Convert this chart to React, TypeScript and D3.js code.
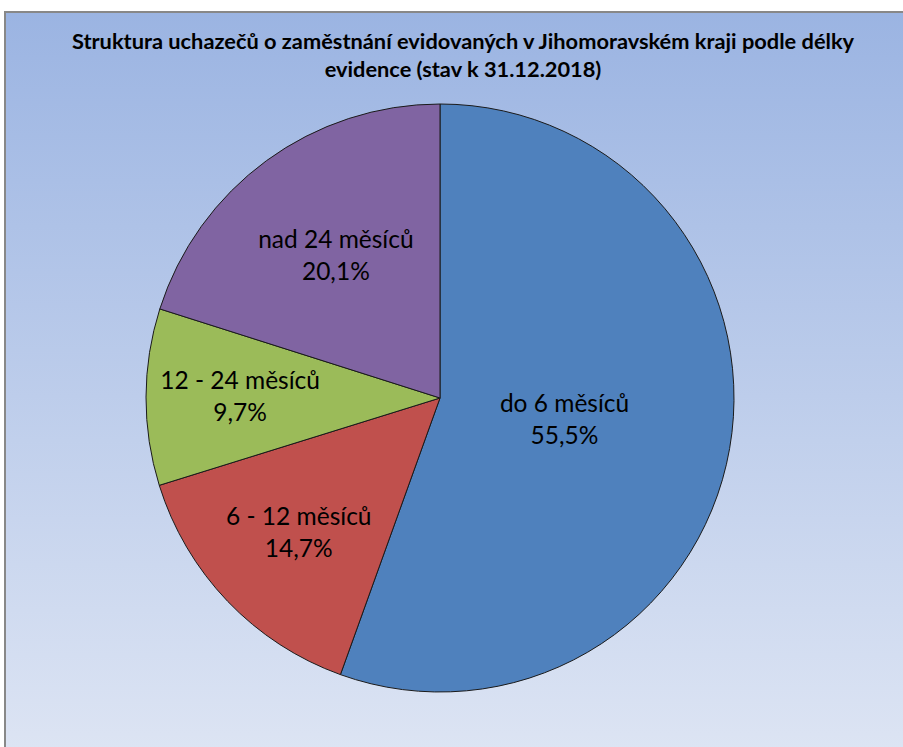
import * as d3 from 'd3'

const W = 903
const H = 747

const TITLE_LINES = [
  'Struktura uchazečů o zaměstnání evidovaných v Jihomoravském kraji podle délky',
  'evidence (stav k 31.12.2018)',
]

const CATEGORIES = ['do 6 měsíců', '6 - 12 měsíců', '12 - 24 měsíců', 'nad 24 měsíců']
const SHARES = [55.5, 14.7, 9.7, 20.1]
const COLORS = ['#4F81BD', '#C0504D', '#9BBB59', '#8064A2']
// where Excel put each label, as a fraction of the radius
const LABEL_POS = [0.43, 0.665, 0.68, 0.6]

const CX = 440
const CY = 398
const R = 294
const FONT = 'Lato, "Open Sans", sans-serif'

type Slice = { name: string; value: number; color: string; lr: number }

export default function App() {
  const data: Slice[] = CATEGORIES.map((name, i) => ({
    name,
    value: SHARES[i],
    color: COLORS[i],
    lr: LABEL_POS[i],
  }))

  const pie = d3
    .pie<Slice>()
    .sort(null)
    .value((d) => d.value)
  const arcs = pie(data)
  const arc = d3.arc<d3.PieArcDatum<Slice>>().innerRadius(0).outerRadius(R)

  const fmt = (v: number) => v.toFixed(1).replace('.', ',') + '%'

  return (
    <div style={{ position: 'fixed', left: 0, top: 0 }}>
      <svg width={W} height={H} style={{ display: 'block' }}>
        <defs>
          <linearGradient id="bg" x1="0" y1="0" x2="0" y2="1">
            <stop offset="0" stopColor="#9BB4E2" />
            <stop offset="1" stopColor="#DFE6F4" />
          </linearGradient>
        </defs>
        <rect x={0} y={0} width={W} height={H} fill="#fff" />
        <rect x={5} y={12} width={W + 20} height={H + 20} fill="url(#bg)" stroke="#888" strokeWidth={2} />
        {TITLE_LINES.map((t, i) => (
          <text
            key={i}
            x={463}
            y={49 + i * 28}
            textAnchor="middle"
            fontFamily={FONT}
            fontWeight="bold"
            fontSize={21.8}
            fill="#000"
          >
            {t}
          </text>
        ))}
        <g transform={`translate(${CX},${CY})`}>
          {arcs.map((a, i) => (
            <path key={i} d={arc(a) ?? ''} fill={a.data.color} stroke="#1a1a1a" strokeWidth={1} />
          ))}
          {arcs.map((a, i) => {
            const mid = (a.startAngle + a.endAngle) / 2
            const r = R * a.data.lr
            const x = Math.sin(mid) * r
            const y = -Math.cos(mid) * r
            return (
              <text
                key={'l' + i}
                x={x}
                y={y}
                textAnchor="middle"
                fontFamily={FONT}
                fontSize={24.5}
                fill="#000"
              >
                <tspan x={x} dy={-8}>
                  {a.data.name}
                </tspan>
                <tspan x={x} dy={32}>
                  {fmt(a.data.value)}
                </tspan>
              </text>
            )
          })}
        </g>
      </svg>
    </div>
  )
}
